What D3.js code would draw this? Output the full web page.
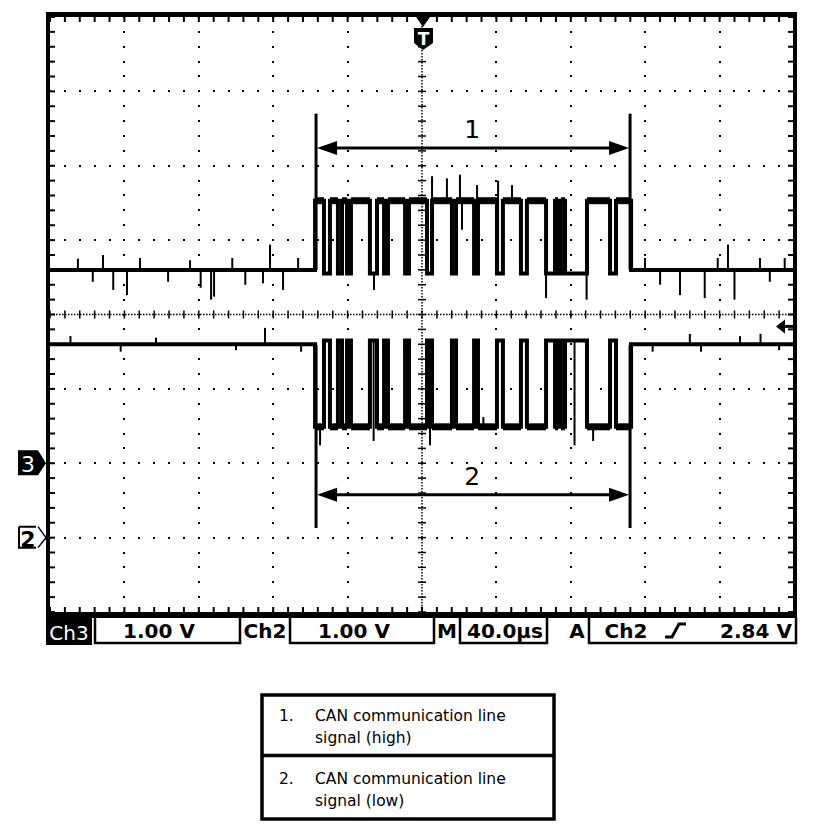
<!DOCTYPE html>
<html><head><meta charset="utf-8">
<script src="https://cdn.jsdelivr.net/npm/d3@7"></script>
<style>
html,body{margin:0;padding:0;background:#fff;}
svg{display:block;}
</style>
</head><body>
<svg id="c" width="816" height="832"></svg>
<script>
// ---------- data ----------
const timeDomain = [-200, 200];          // µs, 40 µs/div, 10 divs
const voltDivs = [0, 8];                 // 8 vertical divisions
const ch3GroundDiv = 2;                  // Ch3 ground marker (divs from bottom)
const ch2GroundDiv = 1;                  // Ch2 ground marker
const frameWindow = [-57.5, 112.4];      // µs, CAN frame on the bus
// recessive periods inside the frame (µs)
const recessiveBits = [[-52.7,-49.5],[-45.2,-43.0],[-40.3,-38.2],[-28.0,-24.2],[-20.4,-18.3],[-9.1,-7.0],
  [2.7,5.4],[16.1,18.3],[28.0,30.1],[40.3,43.5],[53.2,56.4],[66.7,71.5],[73.1,74.7],[76.9,88.7],[101.1,104.3]];
// levels in volts: idle, dominant, recessive inside frame
const canHighLevels = [2.60, 3.53, 2.55];
const canLowLevels  = [2.60, 1.49, 2.65];
// noise spikes [time µs, tip volts]
const canHighSpikes = [[-185,2.75],[-177,2.44],[-171.5,2.80],[-166,2.33],[-158.6,2.26],[-151.6,2.76],[-136.5,2.44],
  [-124.7,2.73],[-119,2.36],[-113.4,2.20],[-111.8,2.24],[-102,2.76],[-95,2.40],[-85.5,2.42],[-81.7,2.94],[-74.7,2.33],
  [-66.6,2.76],[-25.8,2.33],[5.4,3.86],[13.4,3.83],[20.4,3.88],[21.5,3.14],[29.6,3.74],[40.9,3.80],[48.4,3.74],
  [66.7,2.22],[88.5,2.20],[111.8,3.98],[119.9,2.76],[128,2.40],[138.7,2.26],[152,2.22],[159,2.76],[164.5,2.94],
  [168,2.20],[181.7,2.76],[187,2.44],[195,2.76]];
const canLowSpikes = [[-189,2.71],[-162,2.50],[-143,2.69],[-100,2.52],[-84.4,2.82],[-65,2.50],[-54.8,1.24],[-26,1.30],
  [4.3,1.24],[33,1.62],[82,1.24],[92,1.30],[124,2.50],[144,2.74],[150,2.50],[171,2.71],[182,2.74],[192,2.52]];
const annotations = [
  {label:"1", ch:3, arrowV:4.24, topV:4.70, bottomV:2.60, labelT:27},
  {label:"2", ch:2, arrowV:0.575, topV:2.59, bottomV:0.13, labelT:27}
];
const statusTexts = {ch3:"Ch3", ch3Scale:"1.00 V", ch2:"Ch2", ch2Scale:"1.00 V", m:"M", time:"40.0\u00b5s",
  a:"A", trigCh:"Ch2", trigLevel:"2.84 V"};
const triggerLevelV = 2.84;
const legendRows = [["1.", "CAN communication line", "signal (high)"], ["2.", "CAN communication line", "signal (low)"]];

// ---------- scales ----------
const svg = d3.select("#c");
const x = d3.scaleLinear().domain(timeDomain).range([50, 794]);
const yDiv = d3.scaleLinear().domain(voltDivs).range([612, 17]);
const yCh3 = v => yDiv(ch3GroundDiv + v);
const yCh2 = v => yDiv(ch2GroundDiv + v);

// ---------- frame ----------
svg.append("rect").attr("x",46).attr("y",12).attr("width",751).attr("height",606).attr("fill","#000");
svg.append("rect").attr("x",50).attr("y",17).attr("width",743).attr("height",595).attr("fill","#fff");

const g = svg.append("g");
const vLines = d3.range(1,10).map(i => timeDomain[0] + 40*i);
const hLines = d3.range(1,8);
const subY = d3.range(0, 8.001, 0.2);
const subX = d3.range(timeDomain[0], timeDomain[1]+0.001, 8);
vLines.forEach(t => {
  if (t === 0) return;
  subY.forEach(d => g.append("rect").attr("x", Math.round(x(t))-1).attr("y", Math.round(yDiv(d))-1).attr("width",2).attr("height",2).attr("fill","#000"));
});
hLines.forEach(d => {
  if (d === 4) return;
  subX.forEach(t => g.append("rect").attr("x", Math.round(x(t))-1).attr("y", Math.round(yDiv(d))-1).attr("width",2).attr("height",2).attr("fill","#000"));
});
g.append("line").attr("x1",x(0)).attr("x2",x(0)).attr("y1",17).attr("y2",612).attr("stroke","#000").attr("stroke-width",1.5).attr("stroke-dasharray","1.5,1.5");
g.append("line").attr("x1",50).attr("x2",794).attr("y1",yDiv(4)).attr("y2",yDiv(4)).attr("stroke","#000").attr("stroke-width",1.5).attr("stroke-dasharray","1.5,1.5");
subY.forEach(d => g.append("line").attr("x1",x(0)-4).attr("x2",x(0)+4).attr("y1",yDiv(d)).attr("y2",yDiv(d)).attr("stroke","#000").attr("stroke-width",1.5));
subX.forEach(t => g.append("line").attr("x1",x(t)).attr("x2",x(t)).attr("y1",yDiv(4)-4).attr("y2",yDiv(4)+4).attr("stroke","#000").attr("stroke-width",1.5));
subX.forEach(t => {
  g.append("line").attr("x1",x(t)).attr("x2",x(t)).attr("y1",17).attr("y2",22).attr("stroke","#000").attr("stroke-width",2);
  g.append("line").attr("x1",x(t)).attr("x2",x(t)).attr("y1",607).attr("y2",612).attr("stroke","#000").attr("stroke-width",2);
});
subY.forEach(d => {
  g.append("line").attr("x1",50).attr("x2",55).attr("y1",yDiv(d)).attr("y2",yDiv(d)).attr("stroke","#000").attr("stroke-width",2);
  g.append("line").attr("x1",788).attr("x2",793).attr("y1",yDiv(d)).attr("y2",yDiv(d)).attr("stroke","#000").attr("stroke-width",2);
});

// ---------- traces ----------
function buildTrace(levels) {
  const [idle, dom, rec] = levels;
  const pts = [[timeDomain[0], idle],[frameWindow[0], idle],[frameWindow[0], dom]];
  recessiveBits.forEach(([a,b]) => pts.push([a,dom],[a,rec],[b,rec],[b,dom]));
  pts.push([frameWindow[1], dom],[frameWindow[1], idle],[timeDomain[1], idle]);
  return pts;
}
function dominantSpans() {
  const spans = []; let s = frameWindow[0];
  recessiveBits.forEach(([a,b]) => { spans.push([s,a]); s = b; });
  spans.push([s, frameWindow[1]]);
  return spans;
}
function levelAt(t, levels) {
  const [idle, dom, rec] = levels;
  if (t < frameWindow[0] || t > frameWindow[1]) return idle;
  for (const [a,b] of recessiveBits) if (t >= a && t <= b) return rec;
  return dom;
}
function drawChannel(levels, spikes, yS) {
  const line = d3.line().x(d => x(d[0])).y(d => yS(d[1]));
  svg.append("path").attr("d", line(buildTrace(levels))).attr("fill","none").attr("stroke","#000")
    .attr("stroke-width",4).attr("stroke-linejoin","miter");
  // thicker noise band on the dominant level
  svg.append("g").selectAll("line").data(dominantSpans()).join("line")
    .attr("x1", d => x(d[0])).attr("x2", d => x(d[1]))
    .attr("y1", yS(levels[1])).attr("y2", yS(levels[1]))
    .attr("stroke","#000").attr("stroke-width",7);
  svg.append("g").selectAll("line").data(spikes).join("line")
    .attr("x1", d => x(d[0])).attr("x2", d => x(d[0]))
    .attr("y1", d => yS(levelAt(d[0], levels))).attr("y2", d => yS(d[1]))
    .attr("stroke","#000").attr("stroke-width",2);
}
drawChannel(canHighLevels, canHighSpikes, yCh3);
drawChannel(canLowLevels, canLowSpikes, yCh2);

// ---------- annotations ----------
annotations.forEach(a => {
  const yS = a.ch === 3 ? yCh3 : yCh2;
  const ag = svg.append("g");
  const x0 = x(frameWindow[0]) + 1, x1 = x(frameWindow[1]) - 1;
  [x0, x1].forEach(xx => ag.append("line").attr("x1",xx).attr("x2",xx).attr("y1",yS(a.topV)).attr("y2",yS(a.bottomV)).attr("stroke","#000").attr("stroke-width",3));
  const ay = yS(a.arrowV);
  ag.append("line").attr("x1",x0+10).attr("x2",x1-10).attr("y1",ay).attr("y2",ay).attr("stroke","#000").attr("stroke-width",3);
  ag.append("path").attr("d",`M${x0+1},${ay}L${x0+21},${ay-7}L${x0+21},${ay+7}Z`).attr("fill","#000");
  ag.append("path").attr("d",`M${x1-1},${ay}L${x1-21},${ay-7}L${x1-21},${ay+7}Z`).attr("fill","#000");
  ag.append("text").attr("x", x(a.labelT)).attr("y", ay-10).attr("text-anchor","middle")
    .attr("font-family","DejaVu Sans, sans-serif").attr("font-size",25).text(a.label);
});

// ---------- trigger marker (top) ----------
const tx = x(0) + 1;
svg.append("path").attr("d",`M${tx-7},17L${tx+7},17L${tx},27Z`).attr("fill","#000");
svg.append("path").attr("d",`M${tx-9},28L${tx+10},28L${tx+10},43L${tx},50L${tx-9},43Z`).attr("fill","#000");
svg.append("text").attr("x",tx+0.5).attr("y",45).attr("text-anchor","middle").attr("fill","#fff")
  .attr("font-family","DejaVu Sans, sans-serif").attr("font-weight","bold").attr("font-size",17).text("T");

const tly = yCh2(triggerLevelV);
svg.append("path").attr("d",`M776,${tly}L785,${tly-7}L785,${tly+7}Z`).attr("fill","#000");
svg.append("line").attr("x1",784).attr("x2",793).attr("y1",tly).attr("y2",tly).attr("stroke","#000").attr("stroke-width",3);

// ---------- channel ground markers ----------
const y3 = yCh3(0), y2 = yCh2(0);
svg.append("path").attr("d",`M18,${y3-13}L38,${y3-13}L46,${y3}L38,${y3+12}L18,${y3+12}Z`).attr("fill","#000");
svg.append("text").attr("x",28).attr("y",y3+9).attr("text-anchor","middle").attr("fill","#fff")
  .attr("font-family","DejaVu Sans, sans-serif").attr("font-size",22).text("3");
svg.append("path").attr("d",`M19,${y2-11}L36,${y2-11}M19,${y2-11}L19,${y2+10}L36,${y2+10}`).attr("fill","none").attr("stroke","#000").attr("stroke-width",2);
svg.append("path").attr("d",`M38,${y2-11}L46,${y2}L38,${y2+10}`).attr("fill","none").attr("stroke","#000").attr("stroke-width",1.5);
svg.append("text").attr("x",28).attr("y",y2+9).attr("text-anchor","middle").attr("fill","#000")
  .attr("font-family","DejaVu Sans, sans-serif").attr("font-weight","bold").attr("font-size",22).text("2");

// ---------- status bar ----------
const sb = svg.append("g");
const sans = "DejaVu Sans, sans-serif";
sb.append("rect").attr("x",46).attr("y",612).attr("width",46).attr("height",33).attr("fill","#000");
sb.append("text").attr("x",69).attr("y",640).attr("text-anchor","middle").attr("fill","#fff").attr("font-family",sans).attr("font-size",20).text(statusTexts.ch3);
function box(x0, x1) {
  sb.append("path").attr("d",`M${x0},617L${x0},643L${x1},643L${x1},617`).attr("fill","none").attr("stroke","#000").attr("stroke-width",2.5);
}
box(95, 240); box(290, 434); box(460, 547); box(589, 796);
const bt = (xx, txt) => sb.append("text").attr("x",xx).attr("y",638).attr("text-anchor","middle")
  .attr("font-family",sans).attr("font-weight","bold").attr("font-size",20).text(txt);
bt(159, statusTexts.ch3Scale);
bt(265, statusTexts.ch2);
bt(354, statusTexts.ch2Scale);
bt(447, statusTexts.m);
bt(505, statusTexts.time);
bt(577, statusTexts.a);
bt(626, statusTexts.trigCh);
bt(756, statusTexts.trigLevel);
sb.append("path").attr("d","M665,637L672,637L679,624L686,624").attr("fill","none").attr("stroke","#000").attr("stroke-width",3);

// ---------- legend table ----------
const lg = svg.append("g");
lg.append("rect").attr("x",262).attr("y",695).attr("width",292).attr("height",124).attr("fill","none").attr("stroke","#000").attr("stroke-width",3.5);
lg.append("line").attr("x1",262).attr("x2",554).attr("y1",755.5).attr("y2",755.5).attr("stroke","#000").attr("stroke-width",3.5);
legendRows.forEach((r, i) => {
  const base = 721 + i*63;
  lg.append("text").attr("x",279).attr("y",base).attr("font-family",sans).attr("font-size",15.5).text(r[0]);
  lg.append("text").attr("x",315).attr("y",base).attr("font-family",sans).attr("font-size",15.5).text(r[1]);
  lg.append("text").attr("x",315).attr("y",base+22).attr("font-family",sans).attr("font-size",15.5).text(r[2]);
});
</script>
</body></html>
